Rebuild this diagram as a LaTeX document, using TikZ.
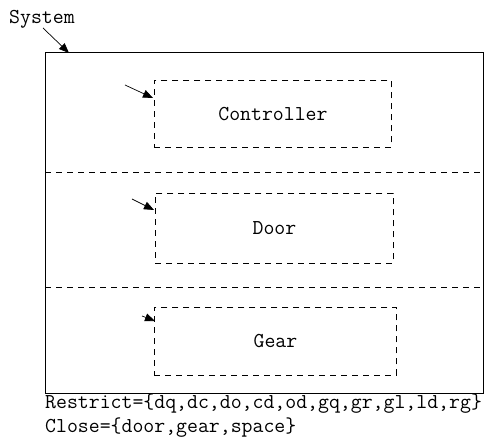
\documentclass[tikz,border=0pt]{standalone}
\usetikzlibrary{arrows.meta}
\begin{document}
\begin{tikzpicture}[x=1pt,y=-1pt,
  lbl/.style={font=\ttfamily\fontsize{21.2}{24}\selectfont, inner sep=0pt},
  part/.style={draw, dash pattern=on 6pt off 5pt, line width=0.9pt},
  divider/.style={draw, dash pattern=on 6pt off 5pt, line width=0.9pt},
  ptr/.style={-{Triangle[length=10pt,width=8pt]}, line width=0.7pt}]
\useasboundingbox (0,0) rectangle (485,443);
\node[draw, line width=1.2pt, minimum width=438pt, minimum height=341pt, anchor=north west, inner sep=0pt] (sys) at (45,52) {};
\node[lbl, anchor=base west] (systxt) at (9,24) {System};
\coordinate (sysarr) at (69,53);
\draw[ptr] (43,28) -- (sysarr);
% dividers
\coordinate (d1l) at (45,172); \coordinate (d1r) at (483,172);
\coordinate (d2l) at (45,287); \coordinate (d2r) at (483,287);
\draw[divider] (d1l) -- (d1r);
\draw[divider] (d2l) -- (d2r);
% parts
\node[part, anchor=north west, minimum width=237pt, minimum height=67pt, inner sep=0pt] (ctrl) at (154,80) {};
\node[lbl] (ctrltxt) at (ctrl.center) {Controller};
\node[part, anchor=north west, minimum width=238pt, minimum height=70pt, inner sep=0pt] (door) at (155,193) {};
\node[lbl] (doortxt) at (door.center) {Door};
\node[part, anchor=north west, minimum width=242pt, minimum height=68pt, inner sep=0pt] (gear) at (154,307) {};
\node[lbl] (geartxt) at (gear.center) {Gear};
% pointers
\coordinate (c0) at (125,85);
\coordinate (dd0) at (132,199);
\coordinate (g0) at (142,316);
\draw[ptr] (c0) -- ([yshift=-18pt,xshift=-1pt]ctrl.north west);
\draw[ptr] (dd0) -- ([yshift=-17pt,xshift=-1pt]door.north west);
\draw[ptr] (g0) -- ([yshift=-14pt,xshift=1pt]gear.north west);
% texts
\node[lbl, anchor=base west] (restrict) at (45,409) {Restrict=\{dq,dc,do,cd,od,gq,gr,gl,ld,rg\}};
\node[lbl, anchor=base west] (close) at (45,433) {Close=\{door,gear,space\}};
\end{tikzpicture}
\end{document}
